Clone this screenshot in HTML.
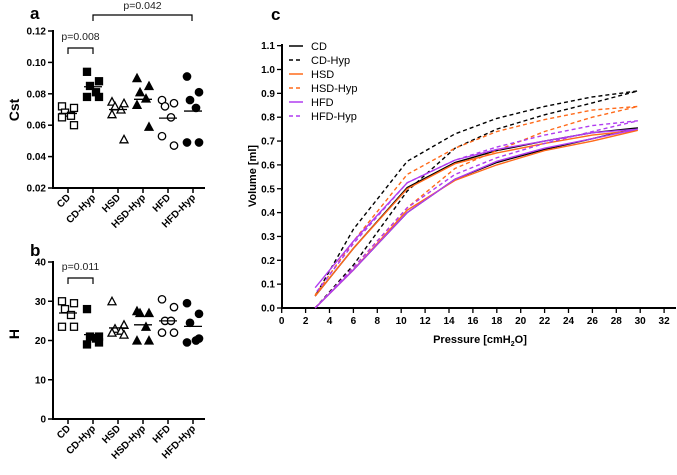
<!DOCTYPE html>
<html><head><meta charset="utf-8"><style>
body{margin:0;background:#fff}
svg{font-family:"Liberation Sans",Arial,sans-serif}
.tk{font-size:10px;font-weight:bold}
</style></head><body>
<svg id="s" width="677" height="470" viewBox="0 0 677 470" xmlns="http://www.w3.org/2000/svg"></svg>
<script>
const groups=["CD","CD-Hyp","HSD","HSD-Hyp","HFD","HFD-Hyp"];
const cstVals=[[0.072,0.071,0.068,0.066,0.065,0.060],[0.094,0.088,0.085,0.081,0.078,0.078],[0.075,0.074,0.072,0.070,0.067,0.051],[0.090,0.085,0.081,0.077,0.073,0.059],[0.076,0.074,0.072,0.065,0.053,0.047],[0.091,0.081,0.076,0.071,0.049,0.049]];
const cstMeans=[0.0675,0.0845,0.070,0.0765,0.0645,0.069];
const hVals=[[30,29.5,28,26.5,23.5,23.5],[28,21,21,20.5,19,19.5],[30,24,23,22.5,22,21.5],[27.5,27,27,23.5,20,20],[30.5,28.5,25,25,22,22],[29.5,26.8,24.5,20,19.5,20.5]];
const hMeans=[27,21.5,23.2,24,25,23.6];
const cstTicks=[0.02,0.04,0.06,0.08,0.10,0.12];
const hTicks=[0,10,20,30,40];
const pvNames=["CD","CD-Hyp","HSD","HSD-Hyp","HFD","HFD-Hyp"];
const pvP=[2.8,6,10.5,14.5,18,22,26,29.8];
const pvInfl=[[0,0.16,0.40,0.54,0.61,0.665,0.71,0.755],[0,0.18,0.49,0.67,0.75,0.81,0.86,0.91],[0,0.16,0.41,0.535,0.60,0.66,0.70,0.745],[0,0.17,0.42,0.585,0.66,0.74,0.80,0.845],[0,0.16,0.40,0.54,0.615,0.67,0.71,0.75],[0,0.17,0.42,0.56,0.63,0.69,0.74,0.785]];
const pvDefl=[[0.05,0.25,0.505,0.61,0.66,0.70,0.735,0.755],[0.05,0.33,0.615,0.73,0.795,0.845,0.885,0.91],[0.05,0.25,0.50,0.605,0.65,0.69,0.725,0.745],[0.055,0.28,0.56,0.67,0.74,0.79,0.83,0.845],[0.085,0.28,0.525,0.62,0.665,0.70,0.735,0.75],[0.06,0.27,0.525,0.62,0.675,0.725,0.765,0.785]];
const xTicksC=[0,2,4,6,8,10,12,14,16,18,20,22,24,26,28,30,32];
const yTicksC=[0,0.1,0.2,0.3,0.4,0.5,0.6,0.7,0.8,0.9,1.0,1.1];

const S=document.getElementById('s');const NS="http://www.w3.org/2000/svg";
function el(t,a,txt){const e=document.createElementNS(NS,t);for(const k in a)e.setAttribute(k,a[k]);if(txt!==undefined)e.textContent=txt;S.appendChild(e);return e;}
const catX=i=>68+i*25;
const jit=[-6,6,-3,3,-6,6];
function scatter(vals,means,ticks,y0,y1,v0,v1,prefix,fmt){
  const Y=v=>y0+(v-v0)/(v1-v0)*(y1-y0);
  let a=el('line',{x1:53,y1:Y(v1)-1,x2:53,y2:y0+1,stroke:'#000','stroke-width':2});
  
  a=el('line',{x1:52,y1:y0,x2:205,y2:y0,stroke:'#000','stroke-width':2});
  
  ticks.forEach(t=>{el('line',{x1:48,x2:53,y1:Y(t),y2:Y(t),stroke:'#000','stroke-width':1.5});
    const tx=el('text',{x:46,y:Y(t)+3.5,'text-anchor':'end',class:'tk'},fmt(t));
    });
  groups.forEach((g,i)=>{const x=catX(i);
    el('line',{x1:x,x2:x,y1:y0,y2:y0+5,stroke:'#000','stroke-width':1.5});
    const tx=el('text',{x:x+3,y:y0+10,'text-anchor':'end',class:'tk',transform:`rotate(-45 ${x+3} ${y0+10})`},g);
    
    const filled=i%2===1;
    vals[i].forEach((v,j)=>{const px=x+jit[j],py=Y(v);let m;
      if(i<2) m=el('rect',{x:px-3.5,y:py-3.5,width:7,height:7,fill:filled?'#000':'#fff',stroke:'#000','stroke-width':1.3});
      else if(i<4) m=el('path',{d:`M${px},${py-4}L${px+4},${py+3.5}L${px-4},${py+3.5}Z`,fill:filled?'#000':'#fff',stroke:'#000','stroke-width':1.3});
      else m=el('circle',{cx:px,cy:py,r:3.7,fill:filled?'#000':'#fff',stroke:'#000','stroke-width':1.3});
      });
    const ml=el('line',{x1:x-9,x2:x+9,y1:Y(means[i]),y2:Y(means[i]),stroke:'#000','stroke-width':1.3});
    
  });
}
scatter(cstVals,cstMeans,cstTicks,188,31,0.02,0.12,'cst',t=>t.toFixed(2));
scatter(hVals,hMeans,hTicks,419,262,0,40,'h',t=>String(t));
function bracket(x1,x2,y,txt,ty,name){const p=el('path',{d:`M${x1},${y+6}V${y}H${x2}V${y+6}`,fill:'none',stroke:'#000','stroke-width':1.2});
 
 const t=el('text',{x:(x1+x2)/2,y:ty,'text-anchor':'middle','font-size':'10.5px',fill:'#222'},txt);
 }
bracket(68,93,48,'p=0.008',40,'bracket-cd-cdhyp');
bracket(93,192,15,'p=0.042',9,'bracket-cdhyp-hfdhyp');
bracket(68,93,278,'p=0.011',270,'bracket-h-cd-cdhyp');
let t;
t=el('text',{x:30,y:19,'font-size':'17px','font-weight':'bold'},'a');
t=el('text',{x:30,y:256,'font-size':'17px','font-weight':'bold'},'b');
t=el('text',{x:271,y:20,'font-size':'17px','font-weight':'bold'},'c');
t=el('text',{x:19,y:110,'font-size':'14px','font-weight':'bold','text-anchor':'middle',transform:'rotate(-90 19 110)'},'Cst');
t=el('text',{x:19,y:334,'font-size':'14px','font-weight':'bold','text-anchor':'middle',transform:'rotate(-90 19 334)'},'H');

// panel c
const CX=p=>281.7+p*11.95, CY=v=>308-v*238.5;
let a=el('line',{x1:282,y1:44,x2:282,y2:309,stroke:'#000','stroke-width':2});
a=el('line',{x1:281,y1:308,x2:676,y2:308,stroke:'#000','stroke-width':2});
yTicksC.forEach(v=>{el('line',{x1:277,x2:282,y1:CY(v),y2:CY(v),stroke:'#000','stroke-width':1.3});
 const tx=el('text',{x:275,y:CY(v)+3.5,'text-anchor':'end',class:'tk'},v.toFixed(1));});
xTicksC.forEach(p=>{el('line',{x1:CX(p),x2:CX(p),y1:308,y2:313,stroke:'#000','stroke-width':1.3});
 const tx=el('text',{x:CX(p),y:324,'text-anchor':'middle',class:'tk'},String(p));});
t=el('text',{x:256,y:176,'font-size':'11px','font-weight':'bold','text-anchor':'middle',transform:'rotate(-90 256 176)'},'Volume [ml]');
t=el('text',{x:480,y:343,'font-size':'11px','font-weight':'bold','text-anchor':'middle'});t.innerHTML='Pressure [cmH<tspan font-size="7" dy="3">2</tspan><tspan dy="-3">O]</tspan>';
const colors=['#000','#000','#ff6a1a','#ff6a1a','#b03cf0','#b03cf0'];
pvNames.forEach((n,i)=>{const dash=i%2===1?'4,3':'none';
 const pts=pvP.map((p,j)=>[CX(p),CY(pvInfl[i][j])]).concat(pvP.map((p,j)=>[CX(p),CY(pvDefl[i][j])]).reverse());
 const l=el('polyline',{points:pts.map(q=>q.join(',')).join(' '),fill:'none',stroke:colors[i],'stroke-width':1.4,'stroke-dasharray':dash});
 
 const ly=46+i*14;
 const ll=el('line',{x1:289,x2:303,y1:ly,y2:ly,stroke:colors[i],'stroke-width':1.5,'stroke-dasharray':dash});
 
 const lt=el('text',{x:311,y:ly+4,'font-size':'11px'},n);
});
</script>
</body></html>
